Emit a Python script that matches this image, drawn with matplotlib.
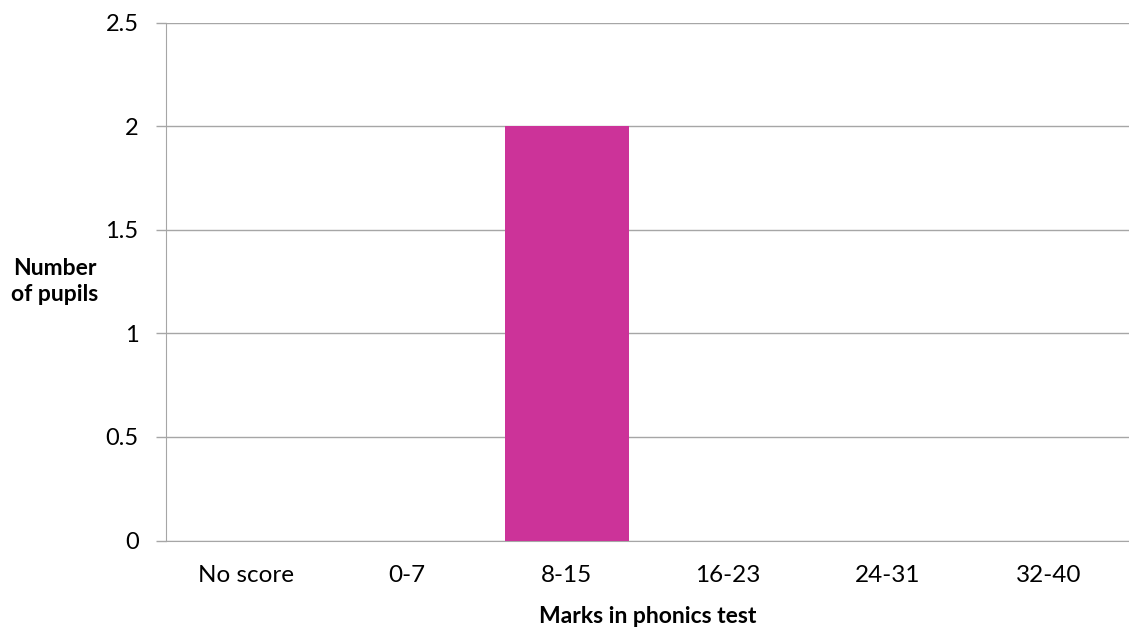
import matplotlib
matplotlib.use("Agg")
import matplotlib.pyplot as plt

categories = ["No score", "0-7", "8-15", "16-23", "24-31", "32-40"]
values = [0, 0, 2, 0, 0, 0]
yticks = [0, 0.5, 1, 1.5, 2, 2.5]
ytick_labels = ["0", "0.5", "1", "1.5", "2", "2.5"]

plt.rcParams['font.family'] = ['Lato', 'DejaVu Sans']

W, H = 1129, 630
fig = plt.figure(figsize=(W / 100, H / 100), dpi=100)
left, right, top, bottom = 165.7, 1128.7, 22.5, 540.5
ax = fig.add_axes([left / W, 1 - bottom / H, (right - left) / W, (bottom - top) / H])

x = list(range(len(categories)))
ax.bar(x, values, width=0.77, color="#CC3399", zorder=3)
ax.set_xlim(-0.5, len(categories) - 0.5)
ax.set_ylim(0, 2.5)
ax.set_yticks(yticks)
ax.set_yticklabels(ytick_labels, fontsize=17)
ax.set_xticks(x)
ax.set_xticklabels(categories, fontsize=17.5)

grid_c = "#a6a6a6"
ax.yaxis.grid(True, color=grid_c, linewidth=1.0, zorder=0)
for s in ["top", "right"]:
    ax.spines[s].set_visible(False)
ax.spines["left"].set_color(grid_c)
ax.spines["bottom"].set_color(grid_c)
ax.tick_params(axis="y", length=7.5, color=grid_c, width=1.0, pad=12)
ax.tick_params(axis="x", length=0, pad=18)

ax.set_xlabel("Marks in phonics test", fontsize=16.5, fontweight="bold", labelpad=14)
ax.set_ylabel("Number\nof pupils", fontsize=16.5, fontweight="bold", rotation=0,
              ha="center", va="center", linespacing=1.35)
ax.yaxis.set_label_coords((55 - left) / (right - left), 0.5)

fig.savefig("out.png", dpi=100)
